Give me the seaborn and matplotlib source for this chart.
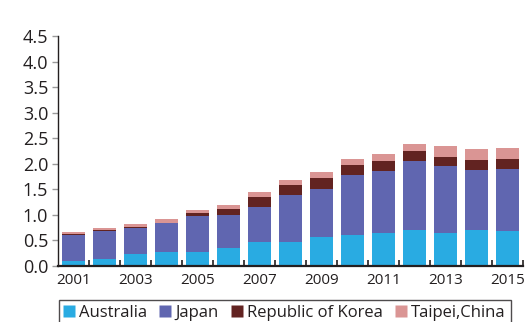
import numpy as np
import pandas as pd
import matplotlib
matplotlib.use("Agg")
import matplotlib.pyplot as plt
from matplotlib.ticker import FixedLocator
from matplotlib.lines import Line2D
import seaborn as sns

years = list(range(2001, 2016))
australia = [0.10, 0.14, 0.24, 0.27, 0.27, 0.35, 0.47, 0.47, 0.57, 0.61, 0.65, 0.70, 0.65, 0.70, 0.69]
japan = [0.51, 0.55, 0.51, 0.57, 0.70, 0.65, 0.69, 0.92, 0.94, 1.17, 1.21, 1.35, 1.31, 1.17, 1.21]
korea = [0.01, 0.01, 0.01, 0.01, 0.06, 0.12, 0.19, 0.20, 0.22, 0.20, 0.20, 0.20, 0.18, 0.21, 0.20]
taipei = [0.04, 0.04, 0.06, 0.06, 0.06, 0.08, 0.10, 0.10, 0.10, 0.12, 0.14, 0.14, 0.20, 0.21, 0.20]
y_ticks = [0.0, 0.5, 1.0, 1.5, 2.0, 2.5, 3.0, 3.5, 4.0, 4.5]

series = ["Australia", "Japan", "Republic of Korea", "Taipei,China"]
colors = ["#29ABE2", "#6066B0", "#622321", "#DA9594"]

df = pd.DataFrame({"year": [str(y) for y in years],
                   "Australia": australia, "Japan": japan,
                   "Republic of Korea": korea, "Taipei,China": taipei})
# cumulative tops for stacking
cum = df[series].cumsum(axis=1)

sns.set_theme(style="white")
plt.rcParams["font.family"] = ["Open Sans", "DejaVu Sans"]

fig = plt.figure(figsize=(5.26, 3.22), dpi=100)
ax = fig.add_axes([58 / 526, 1 - 266 / 322, (523 - 58) / 526, (266 - 36) / 322])

# draw tallest layer first so lower layers sit on top
for name, col in reversed(list(zip(series, colors))):
    sns.barplot(x=df["year"], y=cum[name], color=col, ax=ax,
                width=0.77, saturation=1, edgecolor="none", linewidth=0)

ax.set_xlim(-0.5, 14.5)
ax.set_ylim(0, 4.5)
ax.set_xlabel("")
ax.set_ylabel("")

ax.yaxis.set_major_locator(FixedLocator(y_ticks))
ax.set_yticklabels([f"{v:.1f}" for v in y_ticks], fontsize=13, color="#231F20")
ax.tick_params(axis="y", which="major", direction="out", length=4, width=1,
               color="#9A9A9A", pad=3, left=True)

label_pos = list(range(0, 15, 2))
ax.xaxis.set_major_locator(FixedLocator(label_pos))
ax.set_xticklabels([str(years[i]) for i in label_pos], fontsize=11, color="#231F20")
ax.tick_params(axis="x", which="major", length=0, pad=5)
ax.xaxis.set_minor_locator(FixedLocator(np.arange(0.5, 14.6, 1.0)))
ax.tick_params(axis="x", which="minor", direction="in", length=4, width=1.2,
               color="#231F20", bottom=True)

for s in ["top", "right"]:
    ax.spines[s].set_visible(False)
ax.spines["left"].set_color("#231F20")
ax.spines["left"].set_linewidth(1.0)
ax.spines["bottom"].set_color("#231F20")
ax.spines["bottom"].set_linewidth(1.6)

handles = [Line2D([0], [0], marker="s", linestyle="none", markersize=8,
                  markerfacecolor=c, markeredgecolor="none") for c in colors]
leg = fig.legend(handles, series, loc="upper left",
                 bbox_to_anchor=(59 / 526, 1 - 300 / 322), ncol=4,
                 fontsize=12, frameon=True, fancybox=False,
                 handlelength=0.55, handletextpad=0.35, columnspacing=0.8,
                 borderpad=0.3, borderaxespad=0)
leg.get_frame().set_edgecolor("#231F20")
leg.get_frame().set_linewidth(1.0)
for t in leg.get_texts():
    t.set_color("#231F20")

fig.savefig("out.png", dpi=100)
